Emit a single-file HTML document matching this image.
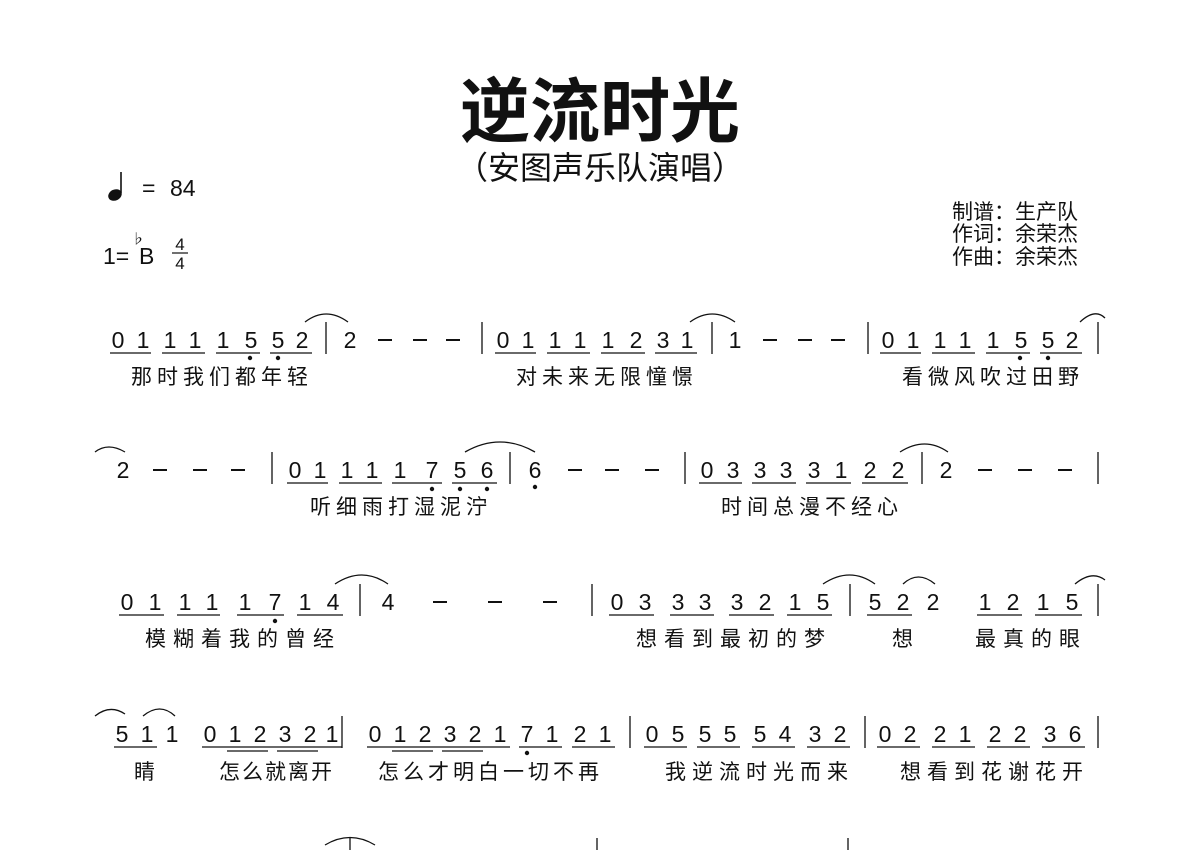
<!DOCTYPE html>
<html><head><meta charset="utf-8"><style>
body{margin:0;background:#fff}
svg{display:block}
text{font-family:"Liberation Sans","Noto Sans CJK SC",sans-serif;fill:#111}
.n{font-size:23px;text-anchor:middle}
.l{font-size:21px}
</style></head><body>
<svg width="1200" height="850" viewBox="0 0 1200 850" xmlns="http://www.w3.org/2000/svg">
<text x="600" y="136" style="font-size:70px;font-weight:bold;text-anchor:middle">逆流时光</text>
<text x="600" y="179" style="font-size:32px;text-anchor:middle">（安图声乐队演唱）</text>
<ellipse cx="115" cy="195" rx="7" ry="5.5" transform="rotate(-25 115 195)" fill="#111"/>
<line x1="121" y1="193" x2="121" y2="172" stroke="#111" stroke-width="1.6"/>
<text x="142" y="196" style="font-size:23px">=</text>
<text x="170" y="196" style="font-size:23px">84</text>
<text x="103" y="264" style="font-size:23px">1=</text>
<text x="131" y="244" style="font-size:14px">♭</text>
<text x="139" y="264" style="font-size:23px">B</text>
<text x="180" y="250" class="n" style="font-size:17px">4</text>
<line x1="172" y1="253" x2="188" y2="253" stroke="#111" stroke-width="1.2"/>
<text x="180" y="269" class="n" style="font-size:17px">4</text>
<text x="952" y="219" style="font-size:21px">制谱：生产队</text>
<text x="952" y="241" style="font-size:21px">作词：余荣杰</text>
<text x="952" y="264" style="font-size:21px">作曲：余荣杰</text>

<g stroke="#111" fill="none" stroke-width="1.3">
<path d="M326 322V354M482 322V354M712 322V354M868 322V354M1098 322V354
M272 452V484M510 452V484M685 452V484M922 452V484M1098 452V484
M360 584V616M592 584V616M850 584V616M1098 584V616
M342 716V748M630 716V748M865 716V748M1098 716V748
M350 838V850M597 838V850M848 838V850"/>
<path d="M305 322Q326 306 348 322M690 322Q712 306 735 322M1080 322Q1095 308 1105 318
M95 452Q108 442 125 452M465 452Q500 432 535 452M900 452Q925 436 948 452
M335 584Q362 566 388 584M823 584Q850 566 875 584M903 584Q918 570 935 584M1075 584Q1092 570 1105 580
M95 716Q110 704 125 714M143 716Q160 702 175 716
M325 845Q350 830 375 845"/>
</g>
<g stroke="#111" stroke-width="1.3">
<path d="M110 353H151M162 353H205M216 353H260M270 353H312
M495 353H536M547 353H590M601 353H645M655 353H697
M880 353H921M932 353H975M986 353H1030M1040 353H1082
M287 483H328M339 483H382M392 483H442M452 483H497
M699 483H742M752 483H796M806 483H851M862 483H908
M119 615H164M177 615H220M237 615H284M297 615H343
M609 615H654M670 615H714M729 615H774M787 615H832M867 615H912M977 615H1022M1035 615H1082
M114 747H157
M202 747H342M227 751H268M277 751H318
M367 747H510M392 751H433M442 751H483M519 747H562M572 747H615
M644 747H687M697 747H740M752 747H795M807 747H850
M877 747H920M932 747H975M987 747H1030M1042 747H1085"/>
</g>
<g stroke="#111" stroke-width="2">
<path d="M378 340H392M413 340H427M446 340H460
M763 340H777M798 340H812M831 340H845
M153 470H167M193 470H207M231 470H245
M568 470H582M605 470H619M645 470H659
M978 470H992M1018 470H1032M1058 470H1072
M433 602H447M488 602H502M543 602H557"/>
</g>
<g fill="#111">
<circle cx="250" cy="358" r="2.2"/><circle cx="278" cy="358" r="2.2"/>
<circle cx="1020" cy="358" r="2.2"/><circle cx="1048" cy="358" r="2.2"/>
<circle cx="432" cy="489" r="2.2"/><circle cx="460" cy="489" r="2.2"/><circle cx="487" cy="489" r="2.2"/><circle cx="535" cy="487" r="2.2"/>
<circle cx="275" cy="621" r="2.2"/>
<circle cx="527" cy="753" r="2.2"/>
</g>

<text class="n" y="348" x="118 143 170 195 223 251 278 302 350">011115522</text>
<text class="n" y="348" x="503 528 555 580 608 636 663 687 735">011112311</text>
<text class="n" y="348" x="888 913 940 965 993 1021 1048 1072">01111552</text>

<text class="n" y="478" x="123">2</text>
<text class="n" y="478" x="295 320 347 372 400 432 460 487 535">011117566</text>
<text class="n" y="478" x="707 733 760 786 814 841 870 898 946">033331222</text>

<text class="n" y="610" x="127 155 185 212 245 275 305 333 388">011117144</text>
<text class="n" y="610" x="617 645 678 705 737 765 795 823 875 903 933 985 1013 1043 1072">033332155221215</text>

<text class="n" y="742" x="122 147 172 210 235 260 285 310 332">511012321</text>
<text class="n" y="742" x="375 400 425 450 475 500 527 552 580 605">0123217121</text>
<text class="n" y="742" x="652 678 705 730 760 785 815 840">05555432</text>
<text class="n" y="742" x="885 910 940 965 995 1020 1050 1075">02212236</text>

<text class="l" y="384" x="131" letter-spacing="5">那时我们都年轻</text>
<text class="l" y="384" x="516" letter-spacing="5">对未来无限憧憬</text>
<text class="l" y="384" x="902" letter-spacing="5">看微风吹过田野</text>
<text class="l" y="514" x="310" letter-spacing="5">听细雨打湿泥泞</text>
<text class="l" y="514" x="721" letter-spacing="5">时间总漫不经心</text>
<text class="l" y="646" x="145" letter-spacing="7">模糊着我的曾经</text>
<text class="l" y="646" x="636" letter-spacing="7">想看到最初的梦</text>
<text class="l" y="646" x="892">想</text>
<text class="l" y="646" x="975" letter-spacing="7">最真的眼</text>
<text class="l" y="779" x="134">睛</text>
<text class="l" y="779" x="219" letter-spacing="2">怎么就离开</text>
<text class="l" y="779" x="378" letter-spacing="4">怎么才明白一切不再</text>
<text class="l" y="779" x="665" letter-spacing="6">我逆流时光而来</text>
<text class="l" y="779" x="900" letter-spacing="6">想看到花谢花开</text>
</svg>
</body></html>
